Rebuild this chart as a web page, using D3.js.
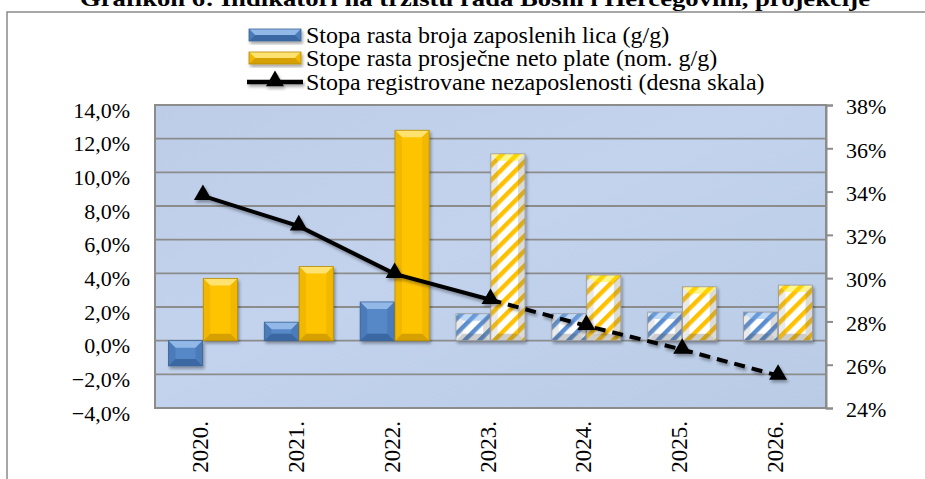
<!DOCTYPE html>
<html>
<head>
<meta charset="utf-8">
<script src="https://cdn.jsdelivr.net/npm/d3@7"></script>
<style>
  body { margin: 0; background: #fff; }
  svg { display: block; font-family: "Liberation Serif", "Times New Roman", serif; }
</style>
</head>
<body>
<svg id="chart" width="925" height="479"></svg>
<script>
// values
const years = ["2020.", "2021.", "2022.", "2023.", "2024.", "2025.", "2026."];
const zaposleni = [-1.5, 1.1, 2.3, 1.6, 1.6, 1.7, 1.7];
const plate = [3.7, 4.4, 12.5, 11.1, 3.9, 3.2, 3.3];
const nezaposlenost = [33.8, 32.4, 30.2, 29.0, 27.8, 26.7, 25.5];
const leftTicks = [-4, -2, 0, 2, 4, 6, 8, 10, 12, 14];
const rightTicks = [24, 26, 28, 30, 32, 34, 36, 38];
const firstProjection = "2023.";
const legendNames = [
  "Stopa rasta broja zaposlenih lica (g/g)",
  "Stope rasta prosječne neto plate (nom. g/g)",
  "Stopa registrovane nezaposlenosti (desna skala)"
];
const title = "Grafikon 6: Indikatori na tržištu rada Bosni i Hercegovini, projekcije";

const serif = "Liberation Serif, Times New Roman, serif";
const svg = d3.select("#chart");
const plot = {left: 155, top: 105, right: 826, bottom: 408};

const blue = {light: "#92b8e8", base: "#5687c6", dark: "#3a68a3", side: "#4b7bb9", stroke: "#3c6699", stripe: "#5a8dd0"};
const yellow = {light: "#ffe270", base: "#ffc400", dark: "#d6a000", side: "#f2b800", stroke: "#b48c08", stripe: "#ffc000"};

const defs = svg.append("defs");
const bg = defs.append("linearGradient").attr("id", "bg")
  .attr("x1", 0).attr("y1", 0).attr("x2", 1).attr("y2", 1);
bg.append("stop").attr("offset", "0%").attr("stop-color", "#bdcde8");
bg.append("stop").attr("offset", "45%").attr("stop-color", "#c3d3ed");
bg.append("stop").attr("offset", "100%").attr("stop-color", "#b9cbe5");

function stripes(id, col) {
  const p = defs.append("pattern").attr("id", id)
    .attr("patternUnits", "userSpaceOnUse")
    .attr("width", 10.5).attr("height", 10.5)
    .attr("patternTransform", "rotate(45)");
  p.append("rect").attr("width", 10.5).attr("height", 10.5).attr("fill", "#fff");
  p.append("rect").attr("width", 4.4).attr("height", 10.5).attr("fill", col);
}
stripes("hatchBlue", blue.stripe);
stripes("hatchYellow", yellow.stripe);

const sh = defs.append("filter").attr("id", "shadow")
  .attr("x", "-20%").attr("y", "-20%").attr("width", "150%").attr("height", "150%");
sh.append("feDropShadow").attr("dx", 1.5).attr("dy", 2.5).attr("stdDeviation", 1.6)
  .attr("flood-color", "#000").attr("flood-opacity", 0.35);

// outer frame and title (the title is cut by the top edge, as in the source)
svg.append("rect").attr("x", 7).attr("y", 12).attr("width", 1000).attr("height", 1000)
  .attr("fill", "none").attr("stroke", "#8a8a8a").attr("stroke-width", 1.5);
svg.append("text").attr("x", 475).attr("y", 6).attr("text-anchor", "middle")
  .attr("font-family", serif).attr("font-weight", "bold").attr("font-size", 22)
  .attr("textLength", 790).attr("lengthAdjust", "spacingAndGlyphs")
  .text(title);

// scales
const x = d3.scaleBand().domain(years).range([plot.left, plot.right]);
const inner = d3.scaleBand().domain(["z", "p"])
  .range([x.bandwidth() / 2 - 34.5, x.bandwidth() / 2 + 34.5]).paddingInner(0.02);
const yL = d3.scaleLinear().domain([-4, 14]).range([plot.bottom, plot.top]);
const yR = d3.scaleLinear().domain([24, 38]).range([plot.bottom, plot.top]);

svg.append("rect").attr("x", plot.left).attr("y", plot.top)
  .attr("width", plot.right - plot.left).attr("height", plot.bottom - plot.top)
  .attr("fill", "url(#bg)");

// grid
svg.append("g").selectAll("line").data(leftTicks).join("line")
  .attr("x1", plot.left).attr("x2", plot.right)
  .attr("y1", d => yL(d)).attr("y2", d => yL(d))
  .attr("stroke", "#8c8c8c").attr("stroke-width", 1.8);

svg.append("rect").attr("x", plot.left).attr("y", plot.top)
  .attr("width", plot.right - plot.left).attr("height", plot.bottom - plot.top)
  .attr("fill", "none").attr("stroke", "#8c8c8c").attr("stroke-width", 2);

// left axis labels
const axL = svg.append("g").attr("transform", `translate(${plot.left},0)`)
  .call(d3.axisLeft(yL).tickValues(leftTicks).tickSize(0).tickPadding(25)
    .tickFormat(d => d3.format(".1f")(d).replace(".", ",") + "%"));
axL.attr("font-family", serif);
axL.select(".domain").remove();
axL.selectAll("text").attr("font-size", 22).attr("fill", "#000").attr("dy", "0.55em");

// right axis
const axR = svg.append("g").attr("transform", `translate(${plot.right},0)`)
  .call(d3.axisRight(yR).tickValues(rightTicks).tickSize(7).tickPadding(13)
    .tickFormat(d => d + "%"));
axR.attr("font-family", serif);
axR.select(".domain").attr("stroke", "#8c8c8c").attr("stroke-width", 2);
axR.selectAll("line").attr("stroke", "#8c8c8c").attr("stroke-width", 2);
axR.selectAll("text").attr("font-size", 22).attr("fill", "#000").attr("dy", "0.4em");

// category labels
const axX = svg.append("g").attr("transform", `translate(0,${plot.bottom})`)
  .call(d3.axisBottom(x).tickSize(0).tickPadding(0));
axX.attr("font-family", serif);
axX.select(".domain").remove();
axX.selectAll("text").attr("font-size", 23).attr("fill", "#000")
  .attr("transform", "translate(-3,13) rotate(-90)")
  .attr("text-anchor", "end").attr("x", 0).attr("y", 0).attr("dy", "0.35em");

// beveled bar
function bevel(g, bx, by, w, h, c, hatch) {
  const d = Math.min(7, h / 2, w / 2);
  const b = g.append("g").attr("filter", "url(#shadow)");
  b.append("rect").attr("x", bx).attr("y", by).attr("width", w).attr("height", h)
    .attr("fill", hatch ? `url(#${hatch})` : c.base);
  const poly = (pts, fill) => b.append("polygon")
    .attr("points", pts.map(p => p.join(",")).join(" ")).attr("fill", fill);
  const top = [[bx, by], [bx + w, by], [bx + w - d, by + d], [bx + d, by + d]];
  const bot = [[bx, by + h], [bx + w, by + h], [bx + w - d, by + h - d], [bx + d, by + h - d]];
  const lft = [[bx, by], [bx + d, by + d], [bx + d, by + h - d], [bx, by + h]];
  const rgt = [[bx + w, by], [bx + w - d, by + d], [bx + w - d, by + h - d], [bx + w, by + h]];
  if (hatch) {
    poly(top, hatch === "hatchYellow" ? "rgba(255,235,0,0.45)" : "rgba(120,170,230,0.45)");
    poly(lft, "rgba(140,140,140,0.18)");
    poly(rgt, "rgba(110,110,110,0.25)");
    poly(bot, "rgba(90,90,90,0.3)");
  } else {
    poly(top, c.light);
    poly(lft, c.side);
    poly(rgt, c.side);
    poly(bot, c.dark);
  }
  b.append("rect").attr("x", bx).attr("y", by).attr("width", w).attr("height", h)
    .attr("fill", "none").attr("stroke", hatch ? "#9a9a9a" : c.stroke).attr("stroke-width", 0.8);
}

const projIdx = years.indexOf(firstProjection);
const bars = svg.append("g");
years.forEach((yr, i) => {
  const x0 = x(yr);
  const proj = i >= projIdx;
  [[zaposleni[i], "z", blue, "hatchBlue"], [plate[i], "p", yellow, "hatchYellow"]].forEach(([v, k, c, h]) => {
    const y1 = yL(Math.max(v, 0)), y2 = yL(Math.min(v, 0));
    bevel(bars, x0 + inner(k), y1, inner.bandwidth(), y2 - y1, c, proj ? h : null);
  });
});

// unemployment line
const pts = years.map((yr, i) => [x(yr) + x.bandwidth() / 2, yR(nezaposlenost[i])]);
const lg = svg.append("g").attr("filter", "url(#shadow)");
const line = d3.line();
lg.append("path").attr("d", line(pts.slice(0, projIdx + 1)))
  .attr("fill", "none").attr("stroke", "#000").attr("stroke-width", 4);
lg.append("path").attr("d", line(pts.slice(projIdx)))
  .attr("fill", "none").attr("stroke", "#000").attr("stroke-width", 4)
  .attr("stroke-dasharray", "11,7");
lg.selectAll(".m").data(pts).join("path").attr("class", "m")
  .attr("transform", d => `translate(${d[0]},${d[1] - 1})`)
  .attr("d", d3.symbol(d3.symbolTriangle, 140)).attr("fill", "#000");

// legend
const leg = svg.append("g");
const rows = [35, 58, 82];
bevel(leg, 249, rows[0] - 6, 52, 12, blue, null);
bevel(leg, 249, rows[1] - 6, 52, 12, yellow, null);
const l3 = leg.append("g").attr("filter", "url(#shadow)");
l3.append("line").attr("x1", 247).attr("x2", 303).attr("y1", rows[2]).attr("y2", rows[2])
  .attr("stroke", "#000").attr("stroke-width", 4.5);
l3.append("path").attr("transform", `translate(275,${rows[2] - 1})`)
  .attr("d", d3.symbol(d3.symbolTriangle, 140)).attr("fill", "#000");
leg.selectAll("text").data(legendNames).join("text")
  .attr("x", 306).attr("y", (d, i) => rows[i] + 8)
  .attr("font-family", serif).attr("font-size", 24).text(d => d);
</script>
</body>
</html>
